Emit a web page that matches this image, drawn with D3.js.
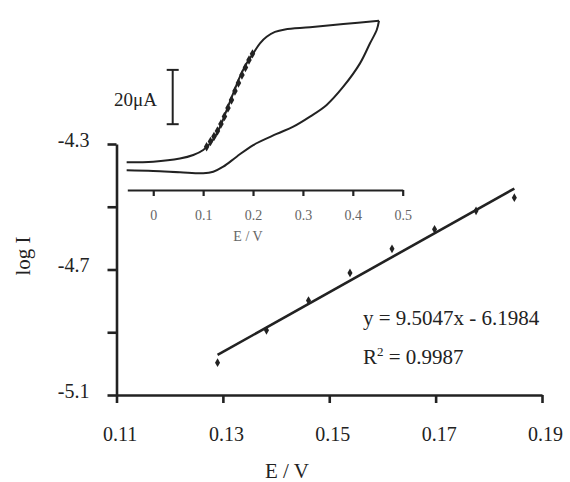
<!DOCTYPE html>
<html>
<head>
<meta charset="utf-8">
<script src="https://cdn.jsdelivr.net/npm/d3@7"></script>
<style>
  body { margin: 0; background: #fff; }
  svg { display: block; font-family: "Liberation Serif", "Times New Roman", serif; }
</style>
</head>
<body>
<div id="chart"></div>
<script>
// main plot: log I vs E
var mainE    = [0.1290, 0.1382, 0.1461, 0.1539, 0.1618, 0.1698, 0.1776, 0.1848];
var mainLogI = [-4.997, -4.894, -4.799, -4.711, -4.634, -4.572, -4.513, -4.471];
var xTicks = [0.11, 0.13, 0.15, 0.17, 0.19];
var yTicks = [-5.1, -4.9, -4.7, -4.5, -4.3];
var yLabeled = [-5.1, -4.7, -4.3];
var fitSlope = 9.5047, fitIntercept = -6.1984, fitR2 = 0.9987;

// inset CV (E in V, I in uA, arbitrary zero)
var cvFwdE = [-0.0533, 0, 0.0535, 0.0802, 0.1002, 0.1203, 0.1337, 0.1472, 0.1604, 0.1738, 0.1873, 0.2005, 0.2139, 0.2273, 0.244, 0.264, 0.3142, 0.3809, 0.4525];
var cvFwdI = [1.36, 1.58, 2.76, 4.05, 5.89, 9.76, 14.4, 20.6, 26.8, 32.9, 37.8, 41.5, 45.2, 47.6, 49.4, 50.3, 51.1, 52.3, 53.5];
var cvRevE = [0.4525, 0.4479, 0.4345, 0.4144, 0.3809, 0.3476, 0.3142, 0.2807, 0.2474, 0.2005, 0.1672, 0.1403, 0.1203, 0.1002, 0.0535, 0, -0.0533];
var cvRevI = [53.5, 50.1, 45.2, 37.8, 29.2, 22.5, 18.2, 14.5, 11.8, 7.73, 3.43, -0.26, -2.1, -2.69, -2.32, -1.84, -1.58];
var cvDotE = [0.107, 0.1147, 0.1217, 0.1287, 0.1357, 0.1427, 0.1498, 0.1568, 0.1638, 0.1708, 0.1778, 0.1848, 0.1919, 0.1989];
var cvDotI = [7.1, 9.0, 10.9, 12.9, 15.5, 18.2, 21.4, 24.3, 27.6, 30.6, 33.5, 36.3, 39.0, 41.3];
var insetTicks = [0, 0.1, 0.2, 0.3, 0.4, 0.5];
var scaleBarE = 0.039, scaleBarI = [15.4, 35.4];

var W = 570, H = 482;
var ink = "#222", grayInk = "#666";
var serif = '"Liberation Serif", "Times New Roman", serif';

function fmt(spec) {
  var f = d3.format(spec);
  return function (d) { return f(d).replace("\u2212", "-"); };
}

var svg = d3.select("#chart").append("svg")
  .attr("width", W).attr("height", H);
svg.append("rect").attr("width", W).attr("height", H).attr("fill", "#fff");

// ---------- main chart ----------
var x = d3.scaleLinear().domain([0.11, 0.19]).range([116.5, 542]);
var y = d3.scaleLinear().domain([-5.1, -4.3]).range([395, 144]);

var xAxis = svg.append("g")
  .attr("transform", "translate(0," + y(-5.1) + ")")
  .call(d3.axisBottom(x).tickValues(xTicks).tickSize(8).tickSizeOuter(0)
    .tickFormat(fmt(".2f")));
xAxis.selectAll("text")
  .attr("y", 46).attr("dy", 0).attr("dx", 3)
  .style("font-size", "20px").attr("fill", ink);

var yAxis = svg.append("g")
  .attr("transform", "translate(" + x(0.11) + ",0)")
  .call(d3.axisLeft(y).tickValues(yTicks).tickSize(9).tickSizeOuter(0)
    .tickFormat(function (d) {
      return yLabeled.some(function (v) { return Math.abs(v - d) < 1e-9; }) ? fmt(".1f")(d) : "";
    }));
yAxis.selectAll("text")
  .attr("x", -27).attr("dy", "0.12em")
  .style("font-size", "20px").attr("fill", ink);

[xAxis, yAxis].forEach(function (g) {
  g.attr("font-family", serif);
  g.select(".domain").attr("stroke", ink).attr("stroke-width", 2.6);
  g.selectAll(".tick line").attr("stroke", ink).attr("stroke-width", 2.6);
});

// trend line
var fitX = [mainE[0], mainE[mainE.length - 1]];
svg.append("line")
  .attr("x1", x(fitX[0])).attr("y1", y(fitSlope * fitX[0] + fitIntercept))
  .attr("x2", x(fitX[1])).attr("y2", y(fitSlope * fitX[1] + fitIntercept))
  .attr("stroke", ink).attr("stroke-width", 2.6);

svg.selectAll(".pt")
  .data(mainE)
  .enter().append("path")
  .attr("class", "pt")
  .attr("transform", function (d, i) { return "translate(" + x(d) + "," + y(mainLogI[i]) + ")"; })
  .attr("d", d3.symbol().type(d3.symbolDiamond).size(22))
  .attr("fill", ink);

svg.append("text")
  .attr("x", 363).attr("y", 325)
  .style("font-size", "21px").attr("fill", ink)
  .text("y = " + fitSlope + "x - " + Math.abs(fitIntercept));

var r2 = svg.append("text")
  .attr("x", 363).attr("y", 364)
  .style("font-size", "21px").attr("fill", ink);
r2.append("tspan").text("R");
r2.append("tspan").attr("dy", -8).style("font-size", "13px").text("2");
r2.append("tspan").attr("dy", 8).text(" = " + fitR2);

svg.append("text")
  .attr("transform", "translate(30,256)rotate(-90)")
  .attr("text-anchor", "middle")
  .style("font-size", "21px").attr("fill", ink)
  .text("log I");

svg.append("text")
  .attr("x", 287).attr("y", 478)
  .attr("text-anchor", "middle")
  .style("font-size", "21px").attr("fill", ink)
  .text("E / V");

// ---------- inset CV ----------
var xi = d3.scaleLinear().domain([-0.052, 0.5]).range([127.3, 402.7]);
var yi = d3.scaleLinear().domain([0, 20]).range([166, 111.7]);

var inset = svg.append("g");

var insetAxis = inset.append("g")
  .attr("transform", "translate(0,190)")
  .attr("font-family", serif)
  .call(d3.axisBottom(xi).tickValues(insetTicks).tickSize(6).tickSizeOuter(0)
    .tickFormat(function (d) { return d === 0 ? "0" : d3.format(".1f")(d); }));
insetAxis.attr("font-family", serif);
insetAxis.select(".domain").attr("stroke", ink).attr("stroke-width", 2.2);
insetAxis.selectAll(".tick line").attr("stroke", ink).attr("stroke-width", 2.2);
insetAxis.selectAll("text")
  .attr("y", 30).attr("dy", 0)
  .style("font-size", "14px").attr("fill", grayInk);

inset.append("text")
  .attr("x", 248).attr("y", 241)
  .attr("text-anchor", "middle")
  .style("font-size", "14px").attr("fill", grayInk)
  .text("E / V");

var cvLine = d3.line()
  .x(function (d) { return xi(d[0]); })
  .y(function (d) { return yi(d[1]); })
  .curve(d3.curveCatmullRom.alpha(0.5));

inset.append("path")
  .attr("d", cvLine(d3.zip(cvFwdE, cvFwdI)))
  .attr("fill", "none").attr("stroke", ink).attr("stroke-width", 2);
inset.append("path")
  .attr("d", cvLine(d3.zip(cvRevE, cvRevI)))
  .attr("fill", "none").attr("stroke", ink).attr("stroke-width", 2);

inset.selectAll(".cvpt")
  .data(cvDotE)
  .enter().append("path")
  .attr("class", "cvpt")
  .attr("transform", function (d, i) { return "translate(" + xi(d) + "," + yi(cvDotI[i]) + ")"; })
  .attr("d", d3.symbol().type(d3.symbolDiamond).size(26))
  .attr("fill", ink);

// 20 uA scale bar
var sbx = xi(scaleBarE);
inset.append("line")
  .attr("x1", sbx).attr("x2", sbx)
  .attr("y1", yi(scaleBarI[0])).attr("y2", yi(scaleBarI[1]))
  .attr("stroke", ink).attr("stroke-width", 2);
scaleBarI.forEach(function (v) {
  inset.append("line")
    .attr("x1", sbx - 6).attr("x2", sbx + 6)
    .attr("y1", yi(v)).attr("y2", yi(v))
    .attr("stroke", ink).attr("stroke-width", 2);
});
inset.append("text")
  .attr("x", 157).attr("y", 106)
  .attr("text-anchor", "end")
  .style("font-size", "19px").attr("fill", ink)
  .text("20\u03bcA");
</script>
</body>
</html>
